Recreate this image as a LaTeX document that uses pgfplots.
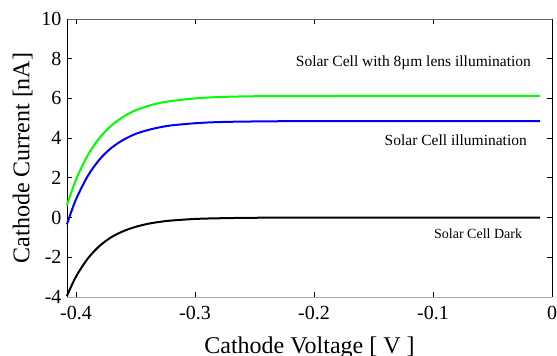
\documentclass[border=0pt]{standalone}
\usepackage{pgfplots}
\pgfplotsset{compat=1.18}
\usepackage{fontspec}
\setmainfont{Liberation Serif}
\begin{document}
\begin{tikzpicture}
\path[use as bounding box] (-67pt,-59pt) rectangle (490pt,297pt);
\begin{axis}[
  at={(0,0)}, anchor=south west,
  scale only axis, width=485pt, height=278pt,
  xmin=-0.4075, xmax=0, ymin=-4, ymax=10,
  xtick={-0.4,-0.3,-0.2,-0.1,0},
  xticklabels={-0.4,-0.3,-0.2,-0.1,0},
  ytick={-4,-2,0,2,4,6,8,10},
  yticklabels={-4,-2,0,2,4,6,8,10},
  tick align=inside, major tick length=5pt,
  tick style={black, line width=0.8pt},
  separate axis lines,
  x axis line style={black!60, line width=0.9pt},
  y axis line style={black, line width=0.9pt},
  ticklabel style={font=\fontsize{20}{22}\selectfont},
  xticklabel style={yshift=-6pt},
  yticklabel style={xshift=-2pt},
  xlabel={Cathode Voltage [ V ]},
  ylabel={Cathode Current [nA]},
  label style={font=\fontsize{24}{26}\selectfont},
  xlabel style={yshift=-10pt},
  ylabel style={yshift=2pt},
  clip=false,
]
\addplot[green, line width=2pt, smooth, tension=0.5] coordinates {
(-0.4076,0.62) (-0.40,1.91) (-0.39,3.15) (-0.38,4.03) (-0.37,4.65)
(-0.36,5.09) (-0.35,5.40) (-0.34,5.61) (-0.33,5.77) (-0.32,5.87)
(-0.30,6.00) (-0.28,6.07) (-0.25,6.11) (-0.2,6.12) (-0.1,6.13) (-0.01,6.13)
};
\addplot[blue, line width=2pt, smooth, tension=0.5] coordinates {
(-0.4076,-0.34) (-0.40,0.91) (-0.39,2.10) (-0.38,2.94) (-0.37,3.52)
(-0.36,3.92) (-0.35,4.21) (-0.34,4.40) (-0.33,4.54) (-0.32,4.64)
(-0.30,4.75) (-0.28,4.81) (-0.25,4.84) (-0.2,4.86) (-0.1,4.86) (-0.01,4.86)
};
\addplot[black, line width=2pt, smooth, tension=0.5] coordinates {
(-0.4076,-3.95) (-0.40,-2.98) (-0.39,-2.06) (-0.38,-1.42) (-0.37,-0.98)
(-0.36,-0.68) (-0.35,-0.47) (-0.34,-0.32) (-0.33,-0.22) (-0.32,-0.15)
(-0.30,-0.07) (-0.28,-0.035) (-0.25,-0.01) (-0.2,0) (-0.1,0) (-0.01,0)
};
\draw[black!35, line width=0.9pt] (rel axis cs:0,0) -- (rel axis cs:1,0);
\node[anchor=east, font=\fontsize{15.5}{17}\selectfont, inner sep=0pt] at (axis cs:-0.0176,7.78) {Solar Cell with 8µm lens illumination};
\node[anchor=east, font=\fontsize{15.5}{17}\selectfont, inner sep=0pt] at (axis cs:-0.021,3.91) {Solar Cell illumination};
\node[anchor=east, font=\fontsize{14}{16}\selectfont, inner sep=0pt] at (axis cs:-0.025,-0.83) {Solar Cell Dark};
\end{axis}
\end{tikzpicture}
\end{document}
